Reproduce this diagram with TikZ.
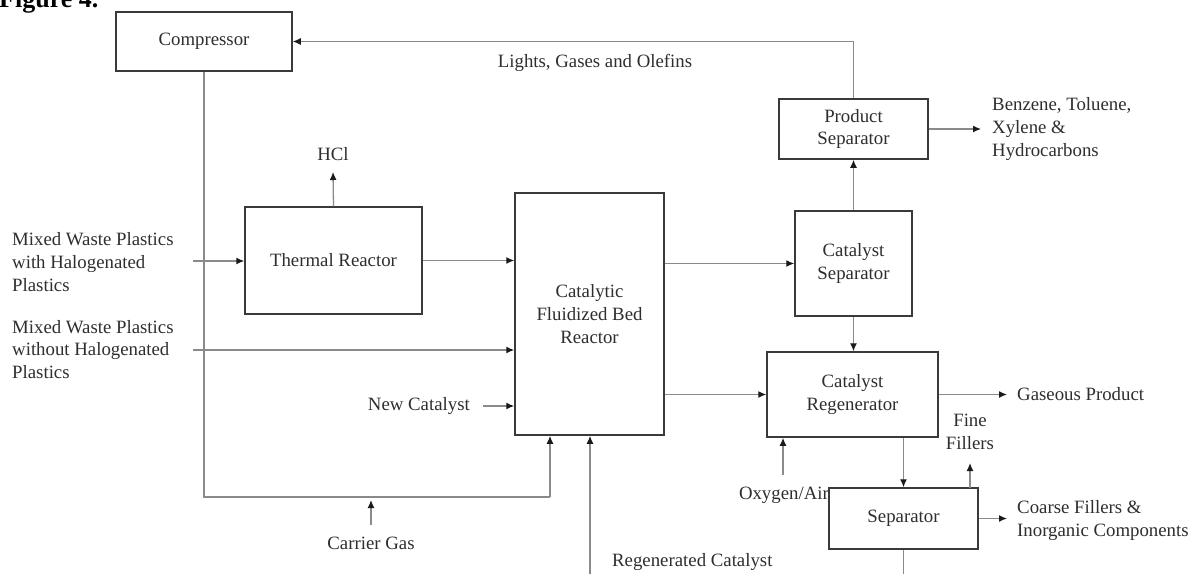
\documentclass[tikz,border=0pt]{standalone}
\usepackage{fontspec}
\setmainfont{Liberation Serif}
\usetikzlibrary{arrows.meta}
\definecolor{linec}{HTML}{8A8A8A}
\definecolor{boxc}{HTML}{3A3A3A}
\definecolor{txtc}{HTML}{2E2E2E}
\definecolor{tipc}{HTML}{1A1A1A}
\tikzset{
  box/.style={draw=boxc, line width=1.5pt, fill=white, inner sep=0pt, align=center, text=txtc},
  lbl/.style={inner sep=0pt, align=left, text=txtc},
  arr/.style={draw=linec, line width=1.3pt, -{Latex[length=8pt,width=7pt,color=tipc]}},
  ln/.style={draw=linec, line width=1.3pt},
}
\begin{document}
\begin{tikzpicture}[x=1pt,y=-1pt,font=\fontsize{18.8}{22.8}\selectfont]
\useasboundingbox (0,0) rectangle (1193,574);
% figure caption (cut off at top)
\node[anchor=base west, inner sep=0pt, font=\fontsize{26}{30}\selectfont\bfseries] (fig) at (-1,7) {Figure 4.};
% boxes
\node[box, minimum width=176, minimum height=59] (comp) at (204,41.5) {Compressor};
\node[box, minimum width=177, minimum height=107] (thermal) at (333.5,260.5) {Thermal Reactor};
\node[box, minimum width=149, minimum height=242] (reactor) at (589.5,314) {Catalytic\\Fluidized Bed\\Reactor};
\node[box, minimum width=149, minimum height=60] (prodsep) at (853.5,129) {Product\\Separator};
\node[box, minimum width=117, minimum height=105] (catsep) at (853.5,263.5) {Catalyst\\Separator};
\node[box, minimum width=171, minimum height=85] (regen) at (852.5,394.5) {Catalyst\\Regenerator};
% labels
\node[lbl, anchor=west] (mwp1) at (12,262) {Mixed Waste Plastics\\with Halogenated\\Plastics};
\node[lbl, anchor=west] (mwp2) at (12,349.5) {Mixed Waste Plastics\\without Halogenated\\Plastics};
\node[lbl] (hcl) at (333,154) {HCl};
\node[lbl] (lights) at (595,63) {Lights, Gases and Olefins};
\node[lbl, anchor=west] (btx) at (992,129) {Benzene, Toluene,\\Xylene \&\\Hydrocarbons};
\node[lbl, anchor=east] (newcat) at (470,406) {New Catalyst};
\node[lbl] (carrier) at (371,543) {Carrier Gas};
\node[lbl, anchor=west] (regcat) at (612,562) {Regenerated Catalyst};
\node[lbl, anchor=east] (oxy) at (829,495) {Oxygen/Air};
\node[lbl, anchor=west] (gas) at (1017,394) {Gaseous Product};
\node[lbl, align=center] (fine) at (970,432) {Fine\\Fillers};
\node[lbl, anchor=west] (coarse) at (1017,520.5) {Coarse Fillers \&\\Inorganic Components};
% separator drawn after Oxygen/Air so it overlaps text edge
\node[box, minimum width=149, minimum height=61] (sep) at (903.5,518.5) {Separator};
% free-end coordinates
\coordinate (in1) at (193,261);
\coordinate (in2) at (193,350);
\coordinate (nc) at (483,406);
\coordinate (hclend) at (333,172);
\coordinate (loopc) at (550,497);
\coordinate (cgs) at (371,525);
\coordinate (cge) at (371,500);
\coordinate (rcs) at (590,574);
\coordinate (btxe) at (981,129);
\coordinate (gase) at (1007,394.5);
\coordinate (oxs) at (783,475);
\coordinate (ffs) at (970,488);
\coordinate (ffe) at (970,463);
\coordinate (coe) at (1007,518.5);
\coordinate (sepout) at (903.5,574);
% connectors
\draw[arr] (prodsep.north) |- (comp.east);
\draw[ln] (comp.south) |- (loopc);
\draw[arr] (loopc) -- (loopc |- reactor.south);
\draw[arr] (cgs) -- (cge);
\draw[arr] (thermal.north) -- (hclend);
\draw[arr] (in1) -- (in1 -| thermal.west);
\draw[arr] (thermal.east) -- (thermal.east -| reactor.west);
\draw[arr] (in2) -- (in2 -| reactor.west);
\draw[arr] (nc) -- (nc -| reactor.west);
\draw[arr] (rcs) -- (rcs |- reactor.south);
\draw[arr] (reactor.east |- catsep.west) -- (catsep.west);
\draw[arr] (reactor.east |- regen.west) -- (regen.west);
\draw[arr] (catsep.north) -- (catsep.north |- prodsep.south);
\draw[arr] (catsep.south) -- (catsep.south |- regen.north);
\draw[arr] (prodsep.east) -- (btxe);
\draw[arr] (regen.east) -- (gase);
\draw[arr] (oxs) -- (oxs |- regen.south);
\draw[arr] (sep.north |- regen.south) -- (sep.north);
\draw[arr] (ffs) -- (ffe);
\draw[arr] (sep.east) -- (coe);
\draw[ln] (sep.south) -- (sepout);
\end{tikzpicture}
\end{document}
